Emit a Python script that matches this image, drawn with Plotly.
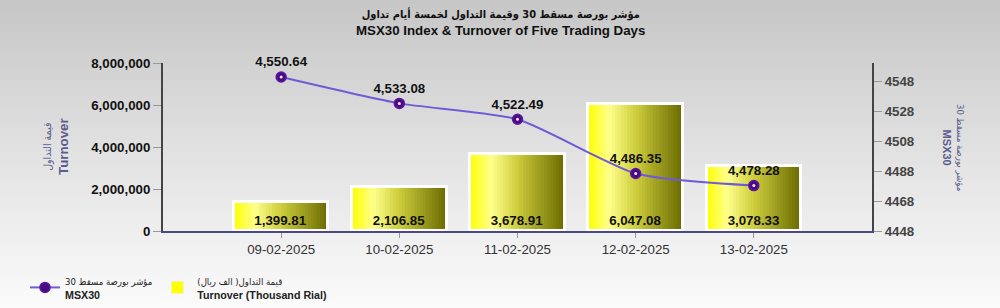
import plotly.graph_objects as go

# ---------------- data ----------------
dates = ["09-02-2025", "10-02-2025", "11-02-2025", "12-02-2025", "13-02-2025"]
turnover = [1399810, 2106850, 3678910, 6047080, 3078330]          # thousand rial
turnover_labels = ["1,399.81", "2,106.85", "3,678.91", "6,047.08", "3,078.33"]
msx30 = [4550.64, 4533.08, 4522.49, 4486.35, 4478.28]
left_ticks = [0, 2000000, 4000000, 6000000, 8000000]
right_ticks = [4448, 4468, 4488, 4508, 4528, 4548]

title_ar = "مؤشر بورصة مسقط 30 وقيمة التداول لخمسة أيام تداول"
title_en = "MSX30 Index & Turnover of Five Trading Days"
AR = "font-family:'DejaVu Sans Condensed','DejaVu Sans',sans-serif;"
name_line = "<span style=\"" + AR + "font-size:9.5px\">مؤشر بورصة مسقط 30</span><br><b>MSX30</b>"
name_bar = "<span style=\"" + AR + "font-size:9.5px\">قيمة التداول( الف ريال)</span><br><b>Turnover (Thousand Rial)</b>"

FONT = "Arial, Liberation Sans, DejaVu Sans, sans-serif"

# ---------------- gradient helpers ----------------
stops = [(0.0, (255, 255, 0)), (0.22, (255, 255, 140)), (0.5, (205, 205, 60)), (1.0, (105, 105, 0))]


def lerp_stops(st, t):
    for (t0, c0), (t1, c1) in zip(st[:-1], st[1:]):
        if t0 <= t <= t1:
            f = (t - t0) / (t1 - t0)
            return "rgb(%d,%d,%d)" % tuple(round(a + (b - a) * f) for a, b in zip(c0, c1))
    return "rgb(%d,%d,%d)" % st[-1][1]


bg_stops = [(0.0, (198, 198, 198)), (0.5, (226, 226, 226)), (1.0, (251, 251, 251))]

fig = go.Figure()

BW = 0.8
N = 32
sw = BW / N
for i in range(N):
    fig.add_trace(go.Bar(
        x=dates, y=turnover, width=sw * 1.15, offset=-BW / 2 + i * sw,
        marker=dict(color=lerp_stops(stops, (i + 0.5) / N), line=dict(width=0)),
        showlegend=False, hoverinfo="skip"))
fig.add_trace(go.Bar(x=dates, y=[None] * len(dates), name=name_bar, marker=dict(color="#ffff00"),
                     showlegend=True))
# white frame + labels on top of the gradient slices
fig.add_trace(go.Bar(
    x=dates, y=turnover, width=BW, marker=dict(color="rgba(0,0,0,0)", line=dict(color="white", width=3)),
    text=turnover_labels, textposition="inside", insidetextanchor="start", textangle=0,
    constraintext="none",
    textfont=dict(family=FONT, size=13.3, color="#111", weight="bold"),
    showlegend=False, hoverinfo="skip"))

fig.add_trace(go.Scatter(
    x=dates, y=msx30, yaxis="y2", mode="lines+markers+text", name=name_line,
    line=dict(color="#6f5bd6", width=2, shape="spline", smoothing=0.6),
    marker=dict(size=10, color="#4b0a82", line=dict(color="#5a1aa0", width=1.5)),
    text=["{:,.2f}".format(v) for v in msx30], textposition="top center", cliponaxis=False,
    textfont=dict(family=FONT, size=13.3, color="#111", weight="bold")))
fig.add_trace(go.Scatter(
    x=dates, y=msx30, yaxis="y2", mode="markers", cliponaxis=False,
    marker=dict(size=3, color="#f0e8ff"), showlegend=False, hoverinfo="skip"))

L, R, T, B = 163, 128, 63, 77
W, H = 1000, 308
PW, PH = W - L - R, H - T - B


def px(xp):
    return (xp - L) / PW


def py(yp):
    return (H - B - yp) / PH


shapes = []
NS = 77
for k in range(NS):
    y0p, y1p = k * H / NS, (k + 1) * H / NS + 0.6
    shapes.append(dict(type="rect", xref="paper", yref="paper", x0=px(0), x1=px(W),
                       y0=py(y1p), y1=py(y0p), line=dict(width=0),
                       fillcolor=lerp_stops(bg_stops, (k + 0.5) / NS), layer="below"))

fig.update_layout(
    width=W, height=H,
    margin=dict(l=L, r=R, t=T, b=B, autoexpand=False),
    paper_bgcolor="#e2e2e2", plot_bgcolor="rgba(0,0,0,0)",
    barmode="overlay", bargap=0,
    font=dict(family=FONT, color="#222"),
    shapes=shapes,
    xaxis=dict(type="category", range=[-1, 5], showline=True, linecolor="#4a4a80", linewidth=2,
               ticks="outside", ticklen=5, tickcolor="#999", showgrid=False, zeroline=False,
               tickfont=dict(family=FONT, size=13.3, color="#333")),
    yaxis=dict(range=[0, 8000000], tickvals=left_ticks, tickformat=",d", showline=True,
               linecolor="#444", linewidth=2, ticks="outside", ticklen=8, tickcolor="#999",
               showgrid=False, zeroline=False,
               tickfont=dict(family=FONT, size=13.3, color="#111", weight="bold")),
    yaxis2=dict(range=[4448, 4560], tickvals=right_ticks, overlaying="y", side="right",
                showline=True, linecolor="#444", linewidth=2, ticks="outside", ticklen=8,
                tickcolor="#999", showgrid=False, zeroline=False,
                tickfont=dict(family=FONT, size=13.3, color="#444", weight="bold")),
    legend=dict(orientation="h", x=px(25), y=py(267), xanchor="left", yanchor="top",
                bgcolor="rgba(0,0,0,0)", font=dict(family=FONT, size=10.7, color="#222"),
                traceorder="reversed"),
    showlegend=True,
    annotations=[
        dict(text="<b><span style=\"" + AR + "font-size:11px\">" + title_ar + "</span></b><br><b>" + title_en + "</b>",
             xref="paper", yref="paper",
             x=px(500), y=py(5), xanchor="center", yanchor="top", showarrow=False,
             font=dict(family=FONT, size=13.3, color="#111")),
        dict(text="<span style=\"" + AR + "font-size:10.5px\">قيمة التداول</span><br><b>Turnover</b>",
             xref="paper", yref="paper", x=px(56), y=0.5, textangle=-90, showarrow=False,
             xanchor="center", yanchor="middle",
             font=dict(family=FONT, size=13.3, color="#5b5b8f")),
        dict(text="<span style=\"" + AR + "font-size:9.5px\">مؤشر بورصة مسقط 30</span><br><b>MSX30</b>",
             xref="paper", yref="paper", x=px(954), y=0.5, textangle=90, showarrow=False,
             xanchor="center", yanchor="middle",
             font=dict(family=FONT, size=11, color="#5b5b8f")),
    ],
)

fig.write_html("out.html")
